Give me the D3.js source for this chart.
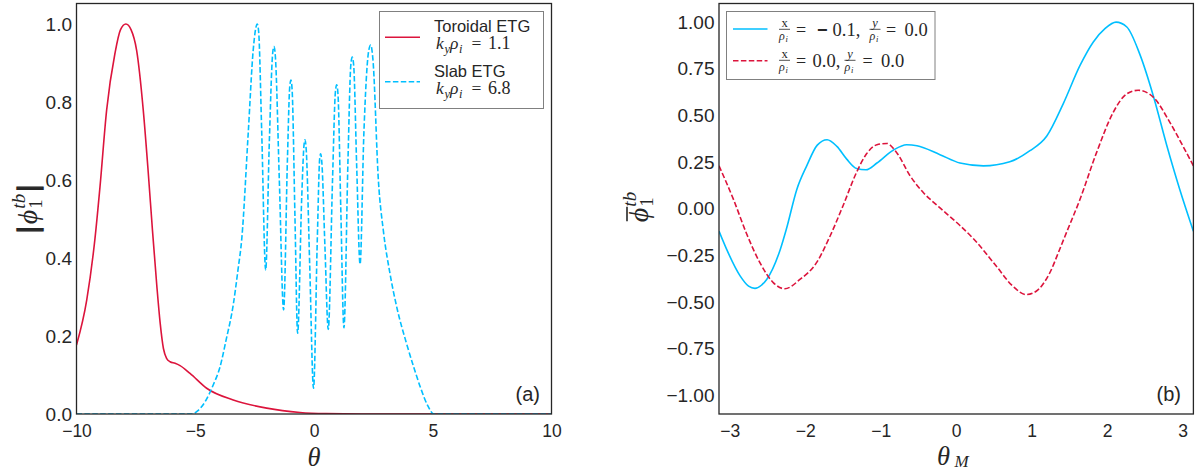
<!DOCTYPE html>
<html><head><meta charset="utf-8">
<script src="https://cdn.jsdelivr.net/npm/d3@7"></script>
<style>body{margin:0;background:#fff} svg{display:block}</style>
</head><body>
<svg id="c" width="1197" height="472"></svg>
<script>
// ---------- DATA ----------
// Panel (a): Toroidal ETG, k_y rho_i = 1.1
const toroidalTheta = [-10, -9.57, -9.22, -9.01, -8.73, -8.38, -8.15, -7.92, -7.7, -7.47, -7.19, -6.98, -6.8, -6.62, -6.48, -6.34, -6.2, -6.06, -5.85, -5.64, -5.22, -4.52, -3.4, -1.99, -0.59, 0.5, 2, 10];
const toroidalPhi   = [0.177, 0.292, 0.451, 0.583, 0.78, 0.925, 0.985, 1.0, 0.985, 0.933, 0.78, 0.62, 0.47, 0.33, 0.235, 0.168, 0.142, 0.134, 0.13, 0.124, 0.104, 0.066, 0.036, 0.015, 0.004, 0.001, 0, 0];
// Panel (a): Slab ETG, k_y rho_i = 6.8
const slabTheta = [-10, -5.15, -4.9, -4.6, -4.24, -3.96, -3.7, -3.4, -3.2, -3.04, -2.77, -2.56, -2.45, -2.39, -2.33, -2.2, -2.035, -1.88, -1.74, -1.684, -1.63, -1.46, -1.28, -1.12, -1.02, -0.97, -0.92, -0.8, -0.69, -0.52, -0.42, -0.38, -0.33, -0.18, -0.02, 0.14, 0.24, 0.28, 0.33, 0.46, 0.6, 0.78, 0.9, 0.956, 1.01, 1.13, 1.26, 1.43, 1.55, 1.61, 1.67, 1.8, 1.94, 2.1, 2.3, 2.39, 2.48, 2.71, 2.92, 3.2, 3.5, 3.9, 4.2, 4.5, 4.8, 5.05, 10];
const slabPhi   = [0, 0, 0.008, 0.03, 0.075, 0.12, 0.19, 0.28, 0.37, 0.45, 0.72, 0.933, 0.99, 1.0, 0.98, 0.72, 0.369, 0.7, 0.925, 0.942, 0.92, 0.6, 0.267, 0.65, 0.84, 0.856, 0.83, 0.5, 0.207, 0.55, 0.69, 0.703, 0.68, 0.38, 0.066, 0.45, 0.655, 0.667, 0.645, 0.43, 0.217, 0.6, 0.825, 0.844, 0.82, 0.52, 0.221, 0.65, 0.895, 0.915, 0.895, 0.63, 0.384, 0.72, 0.93, 0.946, 0.91, 0.6, 0.47, 0.36, 0.27, 0.18, 0.12, 0.065, 0.02, 0, 0];
// Panel (b): x/rho_i = -0.1, y/rho_i = 0.0
const blueTheta = [-3.1416, -3.04, -2.86, -2.75, -2.665, -2.58, -2.51, -2.33, -2.25, -2.11, -1.98, -1.84, -1.71, -1.58, -1.45, -1.32, -1.195, -1.05, -0.83, -0.656, -0.52, -0.215, 0.05, 0.36, 0.71, 0.977, 1.2, 1.42, 1.64, 1.816, 1.97, 2.117, 2.26, 2.43, 2.61, 2.79, 2.96, 3.1416];
const blueVal   = [-0.12, -0.218, -0.361, -0.415, -0.427, -0.41, -0.379, -0.218, -0.11, 0.105, 0.23, 0.341, 0.37, 0.334, 0.266, 0.216, 0.209, 0.245, 0.315, 0.343, 0.338, 0.29, 0.245, 0.23, 0.252, 0.311, 0.39, 0.565, 0.768, 0.894, 0.965, 1.0, 0.974, 0.83, 0.606, 0.338, 0.105, -0.12];
// Panel (b): x/rho_i = 0.0, y/rho_i = 0.0
const redTheta = [-3.1416, -2.95, -2.78, -2.6, -2.42, -2.27, -2.07, -1.85, -1.67, -1.5, -1.32, -1.19, -1.05, -0.92, -0.79, -0.61, -0.436, -0.23, 0.05, 0.25, 0.53, 0.75, 0.93, 1.06, 1.24, 1.37, 1.46, 1.64, 1.86, 2.08, 2.26, 2.41, 2.61, 2.83, 3.0, 3.1416];
const redVal   = [0.23, 0.05, -0.13, -0.289, -0.397, -0.429, -0.379, -0.289, -0.146, 0.015, 0.195, 0.293, 0.343, 0.35, 0.302, 0.176, 0.087, 0.01, -0.09, -0.17, -0.307, -0.415, -0.46, -0.442, -0.343, -0.218, -0.128, 0.051, 0.302, 0.517, 0.616, 0.635, 0.598, 0.463, 0.338, 0.23];
// Ticks
const aXTicks = [-10, -5, 0, 5, 10];
const aYTicks = [0, 0.2, 0.4, 0.6, 0.8, 1.0];
const bXTicks = [-3, -2, -1, 0, 1, 2, 3];
const bYTicks = [-1, -0.75, -0.5, -0.25, 0, 0.25, 0.5, 0.75, 1.0];
const legendANames = ["Toroidal ETG", "Slab ETG"];
const legendAKy = ["1.1", "6.8"];
const legendBX = ["\u22120.1,", "0.0,"];
const legendBY = ["0.0", "0.0"];
const panelTags = ["(a)", "(b)"];

// ---------- DRAW ----------
const svg = d3.select("#c");
const SANS = "'Liberation Sans', Arial, sans-serif";
const SERIF = "'Liberation Serif', 'Times New Roman', serif";
const INK = "#262626";
const RED = "#DC143C", BLUE = "#00BFFF";

function panel(x, y, xt, yt, yfmt, id) {
  const [x0, x1] = x.range(), [y0, y1] = y.range();
  const gx = svg.append("g").attr("transform", `translate(0,${y0})`)
    .call(d3.axisBottom(x).tickValues(xt).tickSize(0).tickPadding(11).tickFormat(d3.format("d")));
  gx.select(".domain").remove();
  gx.selectAll("text").attr("font-family", SANS).attr("font-size", 17.5).attr("fill", INK);
  const gy = svg.append("g").attr("transform", `translate(${x0},0)`)
    .call(d3.axisLeft(y).tickValues(yt).tickSize(0).tickPadding(4.5).tickFormat(d3.format(yfmt)));
  gy.select(".domain").remove();
  gy.selectAll("text").attr("font-family", SANS).attr("font-size", 19).attr("fill", INK);
  svg.append("clipPath").attr("id", id).append("rect")
    .attr("x", x0).attr("y", y1).attr("width", x1 - x0).attr("height", y0 - y1);
}
function frame(x, y) {
  const [x0, x1] = x.range(), [y0, y1] = y.range();
  svg.append("rect").attr("x", x0).attr("y", y1).attr("width", x1 - x0).attr("height", y0 - y1)
    .attr("fill", "none").attr("stroke", INK).attr("stroke-width", 1.3);
}
function series(x, y, xs, ys, color, dashed, clip) {
  const line = d3.line().x(d => x(d[0])).y(d => y(d[1])).curve(d3.curveMonotoneX);
  svg.append("path").datum(d3.zip(xs, ys)).attr("d", line)
    .attr("clip-path", `url(#${clip})`)
    .attr("fill", "none").attr("stroke", color).attr("stroke-width", 1.6)
    .attr("stroke-dasharray", dashed ? "5.5,2.4" : null);
}
function t(g, x, y, s, size, font, italic, anchor) {
  return g.append("text").attr("x", x).attr("y", y).text(s)
    .attr("font-family", font).attr("font-size", size)
    .attr("font-style", italic ? "italic" : "normal")
    .attr("text-anchor", anchor || "start").attr("fill", INK);
}

// Panel a
const xa = d3.scaleLinear().domain([-10, 10]).range([76.5, 551.5]);
const ya = d3.scaleLinear().domain([0, 1.0526]).range([414, 3.5]);
panel(xa, ya, aXTicks, aYTicks, ".1f", "clipA");
series(xa, ya, toroidalTheta, toroidalPhi, RED, false, "clipA");
series(xa, ya, slabTheta, slabPhi, BLUE, true, "clipA");
frame(xa, ya);

// Panel b
const xb = d3.scaleLinear().domain([-Math.PI, Math.PI]).range([719, 1193.4]);
const yb = d3.scaleLinear().domain([-1.1, 1.1]).range([414, 3.5]);
panel(xb, yb, bXTicks, bYTicks, ".2f", "clipB");
series(xb, yb, blueTheta, blueVal, BLUE, false, "clipB");
series(xb, yb, redTheta, redVal, RED, true, "clipB");
frame(xb, yb);

// Axis labels
t(svg, 314, 465.5, "\u03b8", 26.5, SERIF, true, "middle");
t(svg, 937, 465, "\u03b8", 26.5, SERIF, true);
t(svg, 954.5, 467, "M", 17, SERIF, true);

// Left ylabel |phi_1^tb|
{
  const g = svg.append("g").attr("transform", "translate(37,209) rotate(-90)");
  const inner = g.append("g");
  let cx = 0;
  const b1 = t(inner, cx, 0, "|", 27, SANS, false).attr("stroke", INK).attr("stroke-width", 1.4);
  cx += b1.node().getComputedTextLength() + 2;
  const ph = t(inner, cx, 0, "\u03d5", 28, SERIF, true);
  cx += ph.node().getComputedTextLength() + 1;
  const s1 = t(inner, cx, 5, "1", 19, SERIF, false);
  const s2 = t(inner, cx, -12, "tb", 19, SERIF, true);
  cx += Math.max(s1.node().getComputedTextLength(), s2.node().getComputedTextLength()) + 2;
  const b2 = t(inner, cx, 0, "|", 27, SANS, false).attr("stroke", INK).attr("stroke-width", 1.4);
  cx += b2.node().getComputedTextLength();
  inner.attr("transform", `translate(${-cx / 2},0)`);
}
// Right ylabel overline phi_1^tb
{
  const g = svg.append("g").attr("transform", "translate(648,207) rotate(-90)");
  const inner = g.append("g");
  let cx = 0;
  const ph = t(inner, cx, 0, "\u03d5", 28, SERIF, true);
  const w = ph.node().getComputedTextLength();
  inner.append("line").attr("x1", cx + 1).attr("x2", cx + w + 1).attr("y1", -21).attr("y2", -21)
    .attr("stroke", INK).attr("stroke-width", 1.6);
  cx += w + 1;
  const s1 = t(inner, cx, 5, "1", 19, SERIF, false);
  const s2 = t(inner, cx, -12, "tb", 19, SERIF, true);
  cx += Math.max(s1.node().getComputedTextLength(), s2.node().getComputedTextLength());
  inner.attr("transform", `translate(${-cx / 2},0)`);
}

// Panel tags
t(svg, 540, 401, panelTags[0], 20, SANS, false, "end");
t(svg, 1181, 401, panelTags[1], 20, SANS, false, "end");

// Legend a
{
  svg.append("rect").attr("x", 379.5).attr("y", 11.5).attr("width", 164).attr("height", 97)
    .attr("fill", "#fff").attr("stroke", "#808080").attr("stroke-width", 1);
  const rows = [{y: 31.5, ly: 37.3, color: RED, dash: null}, {y: 76.5, ly: 81.7, color: BLUE, dash: "5.5,2.4"}];
  rows.forEach((r, i) => {
    svg.append("line").attr("x1", 385).attr("x2", 420).attr("y1", r.ly).attr("y2", r.ly)
      .attr("stroke", r.color).attr("stroke-width", 1.6).attr("stroke-dasharray", r.dash);
    t(svg, 434, r.y, legendANames[i], 16.5, SANS, false);
    const by = r.y + 17.8;
    t(svg, 436, by, "k", 17.5, SERIF, true);
    t(svg, 444.5, by + 4, "y", 12.5, SERIF, true);
    t(svg, 450, by, "\u03c1", 17.5, SERIF, true);
    t(svg, 459, by + 4, "i", 12.5, SERIF, true);
    t(svg, 471.5, by, "=", 17.5, SERIF, false);
    t(svg, 488, by, legendAKy[i], 18, SERIF, false);
  });
}
// Legend b
{
  svg.append("rect").attr("x", 726.5).attr("y", 11.5).attr("width", 208.5).attr("height", 68)
    .attr("fill", "#fff").attr("stroke", "#808080").attr("stroke-width", 1);
  const rows = [{y: 36, ly: 29, color: BLUE, dash: null}, {y: 67, ly: 60.7, color: RED, dash: "5.5,2.4"}];
  const frac = (x, base, num) => {
    t(svg, x + 5.5, base - 9.5, num, 12.5, SERIF, num === "y", "middle");
    svg.append("line").attr("x1", x).attr("x2", x + 11).attr("y1", base - 6.7).attr("y2", base - 6.7)
      .attr("stroke", INK).attr("stroke-width", 0.8);
    t(svg, x, base + 4, "\u03c1", 12, SERIF, true);
    t(svg, x + 6.5, base + 6, "i", 8.5, SERIF, true);
  };
  rows.forEach((r, i) => {
    svg.append("line").attr("x1", 733).attr("x2", 767.5).attr("y1", r.ly).attr("y2", r.ly)
      .attr("stroke", r.color).attr("stroke-width", 1.6).attr("stroke-dasharray", r.dash);
    frac(779, r.y, "x");
    t(svg, 796, r.y, "=", 18, SERIF, false);
    if (i === 0) {
      t(svg, 817, r.y, "\u2212", 18, SANS, false).attr("font-weight", "bold");
      t(svg, 832.5, r.y, "0.1,", 18.5, SERIF, false);
      frac(869.5, r.y, "y");
      t(svg, 886, r.y, "=", 18, SERIF, false);
      t(svg, 904.5, r.y, legendBY[i], 18.5, SERIF, false);
    } else {
      t(svg, 812.5, r.y, legendBX[i], 18.5, SERIF, false);
      frac(844.5, r.y, "y");
      t(svg, 862.5, r.y, "=", 18, SERIF, false);
      t(svg, 881, r.y, legendBY[i], 18.5, SERIF, false);
    }
  });
}
</script>
</body></html>
